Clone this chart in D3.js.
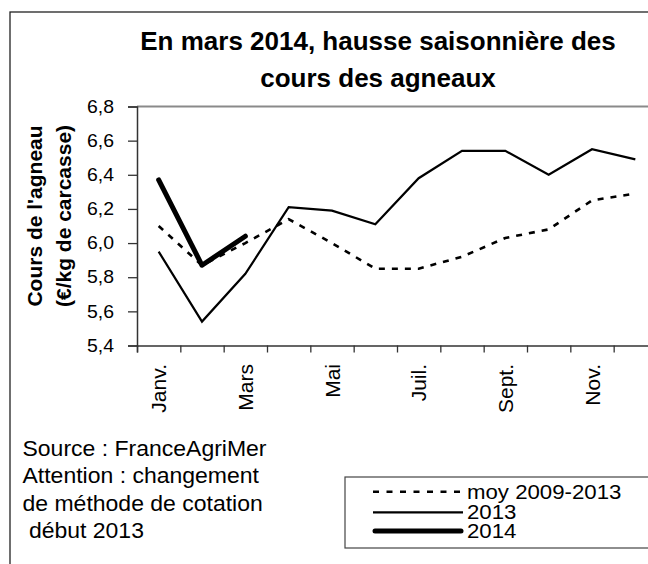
<!DOCTYPE html>
<html><head><meta charset="utf-8">
<script src="https://cdn.jsdelivr.net/npm/d3@7"></script>
<style>
html,body{margin:0;padding:0;background:#fff;}
svg{display:block;font-family:"Liberation Sans",Arial,sans-serif;}
</style></head>
<body>
<svg id="c" width="648" height="564"></svg>
<script>
const months = ["Janv.","Févr.","Mars","Avr.","Mai","Juin","Juil.","Août","Sept.","Oct.","Nov.","Déc."];
const monthLabels = ["Janv.","","Mars","","Mai","","Juil.","","Sept.","","Nov.",""];
const moy = [6.10, 5.87, 6.00, 6.14, 6.00, 5.85, 5.85, 5.92, 6.03, 6.08, 6.25, 6.29];
const y2013 = [5.95, 5.54, 5.82, 6.21, 6.19, 6.11, 6.38, 6.54, 6.54, 6.40, 6.55, 6.49];
const y2014 = [6.37, 5.87, 6.04];
const yTicks = [5.4, 5.6, 5.8, 6.0, 6.2, 6.4, 6.6, 6.8];
const seriesNames = ["moy 2009-2013", "2013", "2014"];
const titleLines = ["En mars 2014, hausse saisonnière des", "cours des agneaux"];
const yTitleLines = ["Cours de l'agneau", "(€/kg de carcasse)"];
const notes = ["Source : FranceAgriMer", "Attention : changement", "de méthode de cotation", " début 2013"];

const svg = d3.select("#c");
const L = 137, R = 657, T = 106.5, B = 345.5;

// outer frame
svg.append("rect").attr("x",10).attr("y",12).attr("width",660).attr("height",580)
  .attr("fill","none").attr("stroke","#222").attr("stroke-width",1.3);

// title
svg.append("g").selectAll("text").data(titleLines).join("text")
  .attr("x",378).attr("y",(d,i)=>50+i*36.5).attr("text-anchor","middle")
  .attr("font-size",26).attr("font-weight","bold").attr("fill","#000").text(d=>d);

const x = d3.scaleBand().domain(months).range([L,R]);
const xb = d3.scaleLinear().domain([0,12]).range([L,R]);
const y = d3.scaleLinear().domain([5.4,6.8]).range([B,T]);

// plot top border
svg.append("line").attr("x1",L).attr("x2",R).attr("y1",T).attr("y2",T)
  .attr("stroke","#8a8a8a").attr("stroke-width",2);

// y axis
const ya = svg.append("g").attr("transform",`translate(${L},0)`)
  .call(d3.axisLeft(y).tickValues(yTicks).tickSize(9).tickPadding(0)
    .tickFormat(d=>d.toFixed(1).replace(".",",")));
ya.select(".domain").attr("stroke","#333").attr("stroke-width",1.5);
ya.selectAll(".tick line").attr("stroke","#333").attr("stroke-width",1.3);
ya.selectAll(".tick text").attr("x",null)
  .attr("transform","translate(-23,0) scale(1.08,1)")
  .attr("font-size",18).attr("fill","#000")
  .attr("font-family","'Liberation Sans',Arial,sans-serif");

// x axis
const xa = svg.append("g").attr("transform",`translate(0,${B})`)
  .call(d3.axisBottom(xb).tickValues(d3.range(0,13)).tickSize(7).tickFormat(""));
xa.select(".domain").attr("stroke","#333").attr("stroke-width",1.5);
xa.selectAll(".tick line").attr("stroke","#333").attr("stroke-width",1.3);

svg.append("g").selectAll("text").data(months.filter((m,i)=>monthLabels[i]!=="")).join("text")
  .attr("transform",d=>`translate(${x(d)+x.bandwidth()/2+7.5},364) rotate(-90)`)
  .attr("text-anchor","end").attr("font-size",21).attr("fill","#000")
  .text(d=>monthLabels[months.indexOf(d)]);

// y title
svg.append("g").selectAll("text").data(yTitleLines).join("text")
  .attr("transform",(d,i)=>`translate(${42+i*29},216) rotate(-90)`)
  .attr("text-anchor","middle").attr("font-size",21).attr("font-weight","bold")
  .attr("fill","#000").text(d=>d);

// lines
const line = d3.line().x((d,i)=>x(months[i])+x.bandwidth()/2).y(d=>y(d));
svg.append("path").datum(moy).attr("d",line).attr("fill","none")
  .attr("stroke","#000").attr("stroke-width",2.6).attr("stroke-dasharray","6,7");
svg.append("path").datum(y2013).attr("d",line).attr("fill","none")
  .attr("stroke","#000").attr("stroke-width",2.2);
svg.append("path").datum(y2014).attr("d",line).attr("fill","none")
  .attr("stroke","#000").attr("stroke-width",5).attr("stroke-linecap","round").attr("stroke-linejoin","round");

// notes
svg.append("g").selectAll("text").data(notes).join("text")
  .attr("transform",(d,i)=>`translate(22.5,${456+i*27.4}) scale(1.07,1)`)
  .attr("font-size",21.5).attr("fill","#000")
  .attr("xml:space","preserve").style("white-space","pre").text(d=>d);

// legend
svg.append("rect").attr("x",345).attr("y",477).attr("width",360).attr("height",71)
  .attr("fill","#fff").attr("stroke","#444").attr("stroke-width",1.2);
const legY = [491.7, 512.3, 531];
const legTextY = [499, 518.5, 538];
const legStyle = [{w:2.6,dash:"6,7.5",cap:"butt"},{w:2.2,dash:null,cap:"butt"},{w:5,dash:null,cap:"round"}];
const lg = svg.append("g").selectAll("g").data(seriesNames).join("g");
lg.append("line").attr("x1",(d,i)=>legStyle[i].cap==="round"?375:373).attr("x2",(d,i)=>legStyle[i].cap==="round"?461:463)
  .attr("y1",(d,i)=>legY[i]).attr("y2",(d,i)=>legY[i])
  .attr("stroke","#000").attr("stroke-width",(d,i)=>legStyle[i].w)
  .attr("stroke-dasharray",(d,i)=>legStyle[i].dash).attr("stroke-linecap",(d,i)=>legStyle[i].cap);
lg.append("text").attr("transform",(d,i)=>`translate(467,${legTextY[i]}) scale(1.14,1)`)
  .attr("font-size",19.5).attr("fill","#000").text(d=>d);
</script>
</body></html>
